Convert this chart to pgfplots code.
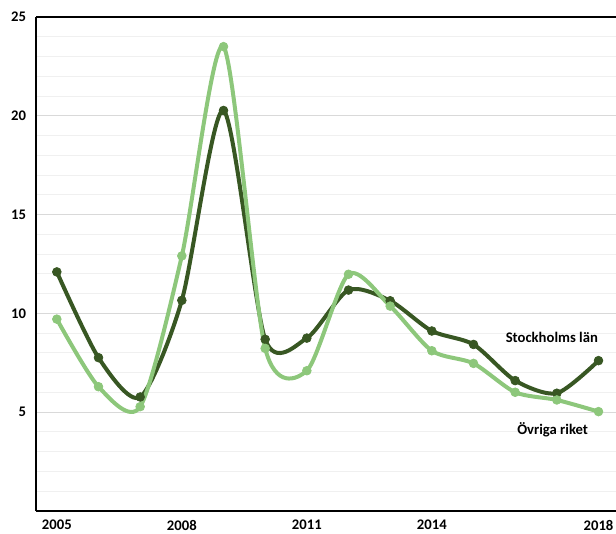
\documentclass[border=0pt]{standalone}
\usepackage{fontspec}
\setmainfont{Carlito}
\usepackage{pgfplots}
\pgfplotsset{compat=1.18}
\definecolor{darkg}{HTML}{385723}
\definecolor{lightg}{HTML}{8DC77B}
\begin{document}
\begin{tikzpicture}
\begin{axis}[name=ax, scale only axis, width=435pt, height=370.5pt,
  xmin=2004.5, xmax=2018.42, ymin=0, ymax=25,
  xtick={2005,2008,2011,2014,2018}, ytick={5,10,15,20,25},
  minor ytick={1,2,3,4,6,7,8,9,11,12,13,14,16,17,18,19,21,22,23,24},
  ymajorgrids, yminorgrids,
  major grid style={draw=black!15, line width=0.75pt},
  minor grid style={draw=black!6, line width=0.75pt},
  axis x line*=bottom, axis y line*=left,
  axis line style={line width=1.5pt, black},
  major tick length=0pt, minor tick length=0pt,
  tick style={draw=none},
  ticklabel style={font=\bfseries\fontsize{11}{13}\selectfont},
  /pgf/number format/assume math mode=true,
  /pgf/number format/1000 sep={},
  xticklabel style={inner sep=0pt, yshift=-6.8pt},
  yticklabel style={xshift=-4pt},
  clip=false,
]
\draw[line width=1.5pt, black] (rel axis cs:0,1) -- (rel axis cs:1,1);
\addplot[darkg, line width=3pt, smooth, tension=0.45, mark=*, mark size=3.3pt, mark options={line width=0.5pt, fill=darkg}] coordinates {
(2005,12.10) (2006,7.76) (2007,5.77) (2008,10.66) (2009,20.27) (2010,8.69) (2011,8.75)
(2012,11.18) (2013,10.64) (2014,9.11) (2015,8.43) (2016,6.60) (2017,5.96) (2018,7.61)};
\addplot[lightg, line width=3pt, smooth, tension=0.45, mark=*, mark size=3.3pt, mark options={line width=0.5pt, fill=lightg}] coordinates {
(2005,9.71) (2006,6.29) (2007,5.28) (2008,12.91) (2009,23.50) (2010,8.23) (2011,7.10)
(2012,11.98) (2013,10.37) (2014,8.11) (2015,7.47) (2016,6.01) (2017,5.62) (2018,5.03)};
\node[font=\bfseries\fontsize{11}{13}\selectfont] at (axis cs:2016.88,8.80) {Stockholms län};
\node[font=\bfseries\fontsize{11}{13}\selectfont] at (axis cs:2016.9,4.11) {Övriga riket};
\end{axis}
\pgfresetboundingbox
\path[use as bounding box] ([xshift=-27pt,yshift=-16.5pt]ax.south west) rectangle ([yshift=12.75pt]ax.north east);
\end{tikzpicture}
\end{document}
